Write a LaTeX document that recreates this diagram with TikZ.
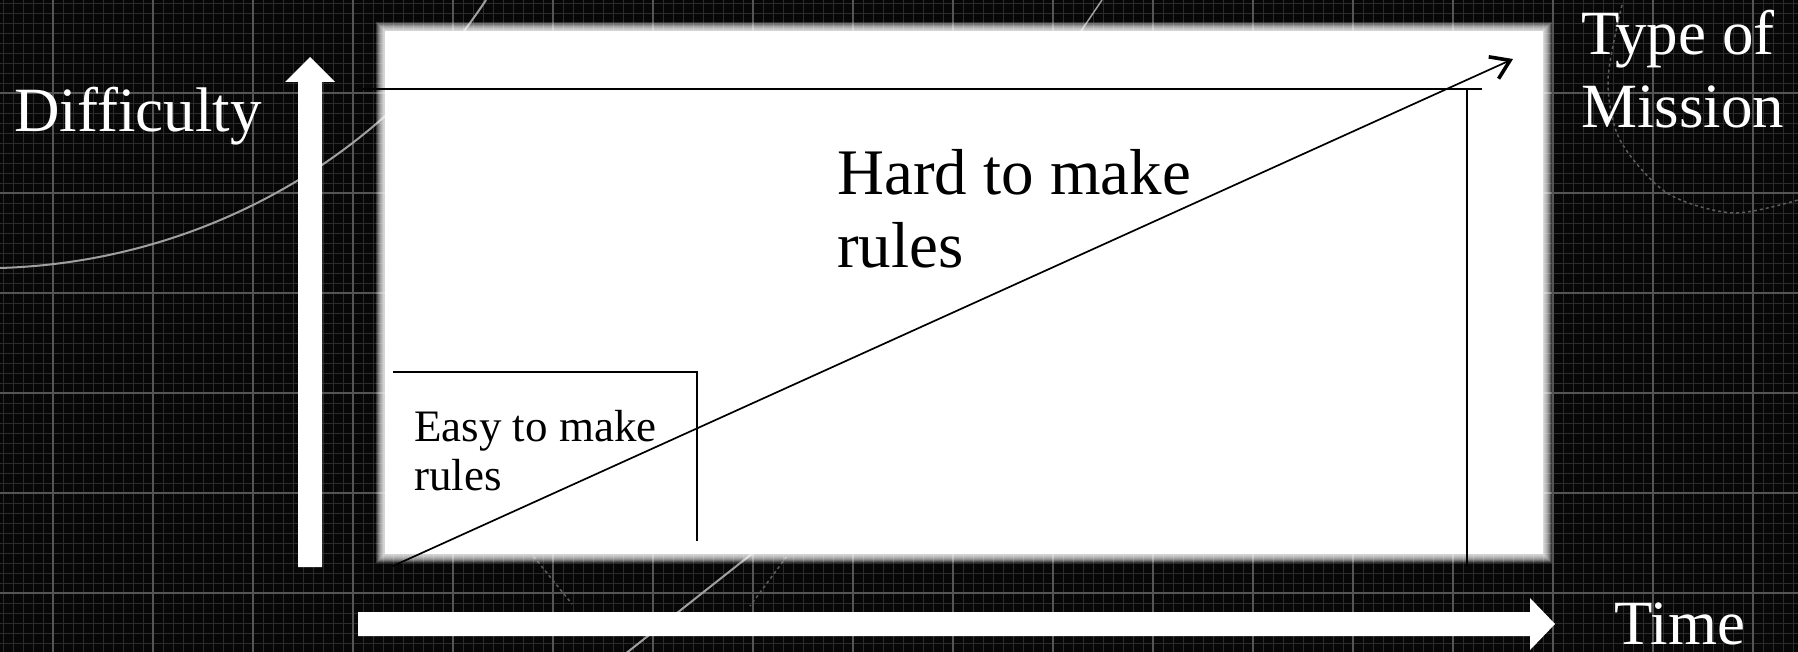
\documentclass[tikz,border=0pt]{standalone}
\usepackage{fontspec}
\setmainfont{Liberation Serif}
\usetikzlibrary{arrows.meta}
\definecolor{bgdark}{HTML}{070707}
\definecolor{gridminor}{HTML}{2C2C2C}
\definecolor{gridmajor}{HTML}{555555}
\definecolor{decor}{HTML}{A0A0A0}
\definecolor{decordim}{HTML}{5C5C5C}
\tikzset{
  blackline/.style={draw=black, line width=1.7pt},
  thinblack/.style={draw=black, line width=1.4pt},
  axisarrow/.style={fill=white, draw=none},
  boxtextsmall/.style={inner sep=0pt, anchor=base west, align=left, text=black, font=\fontsize{45}{49}\selectfont},
  boxtextbig/.style={inner sep=0pt, anchor=base west, align=left, text=black, font=\fontsize{65}{73}\selectfont},
  axislabel/.style={inner sep=0pt, anchor=base west, align=left, text=white, font=\fontsize{63}{73}\selectfont},
}
\begin{document}
\begin{tikzpicture}[x=1pt,y=-1pt]
\useasboundingbox (0,0) rectangle (1798,652);
% background
\fill[bgdark] (0,0) rectangle (1798,652);
\foreach \x in {3,13,...,1798} \draw[gridminor, line width=0.9pt] (\x,0) -- (\x,652);
\foreach \y in {3,13,...,652} \draw[gridminor, line width=0.9pt] (0,\y) -- (1798,\y);
\foreach \x in {53,153,...,1798} \draw[gridmajor, line width=1.2pt] (\x,0) -- (\x,652);
\foreach \y in {93,193,...,652} \draw[gridmajor, line width=1.2pt] (0,\y) -- (1798,\y);
% decorative curves
\draw[decor, line width=2pt] (0,268) .. controls (200,262) and (380,160) .. (486,0);
\draw[decor, line width=2pt] (615,662) -- (820,500);
\draw[decor, line width=1.5pt] (1102,0) -- (1075,40);
\draw[decordim, line width=1.5pt, dashed] plot[smooth] coordinates {(1622,5) (1608,80) (1620,140) (1667,193) (1733,213) (1798,200)};
\draw[decordim, line width=1.5pt, dashed] (530,552) -- (572,604);
\draw[decordim, line width=1.5pt, dashed] (790,552) -- (750,606);
% white panel with soft edge
\foreach \i in {1,...,9} \fill[white, opacity=0.18] (385-\i,31-\i) rectangle (1543+\i,554+\i);
\fill[white] (385,31) rectangle (1543,554);
% black lines
\coordinate (topL) at (363,89);
\coordinate (topR) at (1482,89);
\coordinate (rvT) at (1467,89);
\coordinate (rvB) at (1467,566);
\coordinate (eTL) at (393,372);
\coordinate (eTR) at (697,372);
\coordinate (eBR) at (697,541);
\coordinate (dStart) at (393,566);
\coordinate (dEnd) at (1513,59);
\draw[blackline] (topL) -- (topR);
\draw[thinblack] (rvT) -- (rvB);
\draw[thinblack] (eTL) -- (eTR) -- (eBR);
\draw[blackline, -{Straight Barb[length=18pt,width=24pt,line width=3.6pt]}] (dStart) -- (dEnd);
% white axis arrows
\coordinate (vTip) at (310,57);
\fill[axisarrow] (298,567) -- (298,82) -- (285,82) -- (vTip) -- (335,82) -- (322,82) -- (322,567) -- cycle;
\coordinate (hTip) at (1555,624);
\fill[axisarrow] (358,612) -- (1530,612) -- (1530,598) -- (hTip) -- (1530,650) -- (1530,636) -- (358,636) -- cycle;
% texts (base anchor = baseline of last line)
\node[boxtextsmall] (easy) at (414,490) {Easy to make\\rules};
\node[boxtextbig] (hard) at (837,268) {Hard to make\\rules};
\node[axislabel] (diff) at (14,132) {Difficulty};
\node[axislabel] (type) at (1581,128) {Type of\\Mission};
\node[axislabel] (time) at (1614,644) {Time};
\end{tikzpicture}
\end{document}
